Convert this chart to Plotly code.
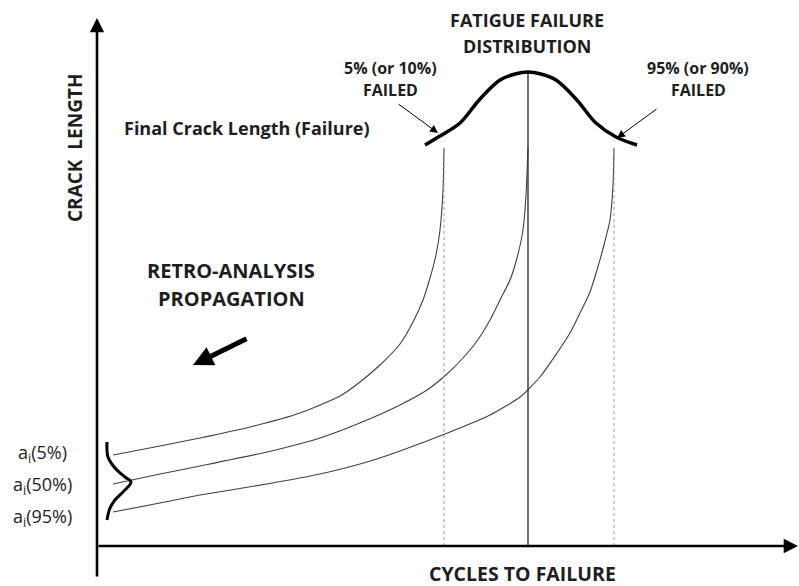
import plotly.graph_objects as go

# crack growth curves, x = cycles, y = crack length (arbitrary units)
c05_x = [16, 63, 103, 153, 203, 243, 263, 283, 303, 316, 326, 333, 339, 343, 346, 347]
c05_y = [91, 100, 108, 119, 133, 150, 164, 181, 202, 224, 246, 268, 291, 316, 356, 398]

c50_x = [16, 63, 103, 170, 223, 270, 303, 330, 350, 366, 380, 393, 403, 413, 420, 426, 429, 431]
c50_y = [62, 72, 80, 94, 108, 126, 141, 156, 172, 188, 205, 226, 246, 266, 288, 316, 351, 398]

c95_x = [16, 63, 103, 170, 223, 270, 303, 353, 393, 423, 443, 460, 473, 483, 493, 500, 507, 513, 516, 517]
c95_y = [34, 43, 51, 62, 72, 84, 95, 114, 131, 149, 169, 193, 213, 233, 254, 276, 301, 326, 361, 398]

# fatigue failure distribution (on top of final crack length)
fail_x = [328, 343, 363, 383, 403, 418, 431, 444, 459, 479, 499, 519, 540]
fail_y = [401, 410, 423, 447, 466, 472, 474, 472, 466, 447, 423, 409, 401]

# initial crack size distribution (sideways, next to the y axis)
init_x = [10, 11, 18, 28, 34, 26, 18, 13, 10]
init_y = [104, 89, 78, 69, 64, 54, 46, 38, 26]

failure_cycles = [347, 431, 517]
final_crack = 398
peak_height = 474

INK = "#1e1e1e"
CURVE = "#404040"
FONT = "Open Sans"

fig = go.Figure()

for xs, ys in [(c05_x, c05_y), (c50_x, c50_y), (c95_x, c95_y)]:
    fig.add_trace(go.Scatter(x=xs, y=ys, mode="lines", line=dict(color=CURVE, width=1.1, shape="spline", smoothing=0.6), hoverinfo="skip"))

# vertical markers at failure lives
fig.add_trace(go.Scatter(x=[failure_cycles[0], failure_cycles[0]], y=[0, final_crack], mode="lines",
                         line=dict(color="#9a9a9a", width=1, dash="dot"), hoverinfo="skip"))
fig.add_trace(go.Scatter(x=[failure_cycles[2], failure_cycles[2]], y=[0, final_crack], mode="lines",
                         line=dict(color="#9a9a9a", width=1, dash="dot"), hoverinfo="skip"))
fig.add_trace(go.Scatter(x=[failure_cycles[1], failure_cycles[1]], y=[0, peak_height], mode="lines",
                         line=dict(color="#333333", width=1.4), hoverinfo="skip"))

fig.add_trace(go.Scatter(x=fail_x, y=fail_y, mode="lines", line=dict(color="black", width=3.5, shape="spline", smoothing=1), hoverinfo="skip"))
fig.add_trace(go.Scatter(x=init_x, y=init_y, mode="lines", line=dict(color="black", width=3, shape="spline", smoothing=1), hoverinfo="skip"))


def arrow(x, y, ax, ay, width, size):
    fig.add_annotation(x=x, y=y, ax=ax, ay=ay, xref="x", yref="y", axref="x", ayref="y", text="",
                       showarrow=True, arrowhead=2, arrowsize=size, arrowwidth=width, arrowcolor="black", standoff=0)


# axes
arrow(0, 528, 0, -32, 2.6, 1.1)
arrow(701, 0, 0, 0, 2.6, 1.1)
# pointers
arrow(341, 413, 300, 443, 1, 1.6)
arrow(520, 408, 561, 438, 1, 1.6)
# retro-analysis arrow
arrow(96, 181, 151, 208, 5, 0.8)


def label(x, y, text, size=16, bold=True, angle=0):
    fig.add_annotation(x=x, y=y, xref="x", yref="y", text=f"<b>{text}</b>" if bold else text, showarrow=False,
                       textangle=angle, font=dict(family=FONT, size=size, color=INK))


label(430, 526, "FATIGUE FAILURE", 18)
label(430, 500, "DISTRIBUTION", 18)
label(293, 478, "5% (or 10%)", 16)
label(293, 456, "FAILED", 16)
label(601, 478, "95% (or 90%)", 16)
label(601, 456, "FAILED", 16)
label(150, 418, "Final Crack Length (Failure)", 18)
label(134, 276, "RETRO-ANALYSIS", 20)
label(134, 248, "PROPAGATION", 20)
label(-22, 398, "CRACK\u00a0\u00a0LENGTH", 19, angle=-90)
label(425, -27, "CYCLES TO FAILURE", 19.5)
label(-55, 93, "a<sub>i</sub>(5%)", 18, bold=False)
label(-55, 61, "a<sub>i</sub>(50%)", 18, bold=False)
label(-55, 29, "a<sub>i</sub>(95%)", 18, bold=False)

fig.update_layout(
    width=799, height=586,
    margin=dict(l=0, r=0, t=0, b=0),
    paper_bgcolor="white", plot_bgcolor="white",
    showlegend=False,
    xaxis=dict(range=[-97, 702], visible=False, fixedrange=True),
    yaxis=dict(range=[-40, 546], visible=False, fixedrange=True),
)

fig.write_html("out.html", config={"displayModeBar": False},
               post_script="document.body.style.margin='0';")
